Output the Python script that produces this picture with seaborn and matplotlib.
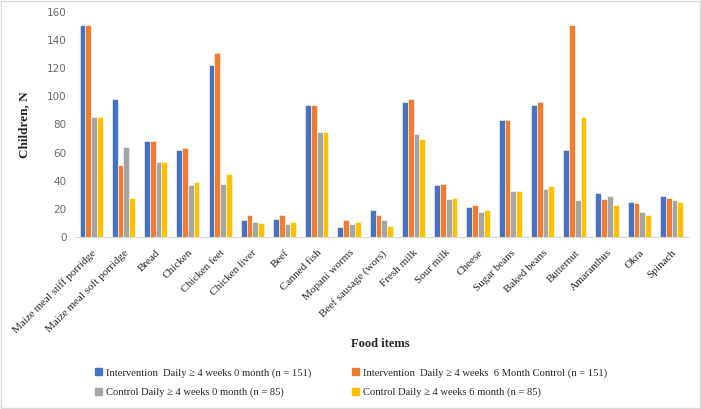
import numpy as np
import pandas as pd
import matplotlib.pyplot as plt
import seaborn as sns
from matplotlib.patches import Rectangle

# food items and counts
foods = ["Maize meal stiff porridge", "Maize meal soft porridge", "Bread", "Chicken",
         "Chicken feet", "Chicken liver", "Beef", "Canned fish", "Mopani worms",
         "Beef sausage (wors)", "Fresh milk", "Sour milk", "Cheese", "Sugar beans",
         "Baked beans", "Butternut", "Amaranthus", "Okra", "Spinach"]
int_0m = [151, 98, 68, 62, 122, 12, 13, 94, 7, 19, 96, 37, 21, 83, 94, 62, 31, 25, 29]
int_6m = [151, 51, 68, 63, 131, 16, 16, 94, 12, 16, 98, 38, 23, 83, 96, 151, 27, 24, 28]
ctl_0m = [85, 64, 53, 37, 38, 11, 9, 75, 9, 12, 73, 27, 18, 33, 34, 26, 29, 18, 26]
ctl_6m = [85, 28, 53, 39, 45, 10, 11, 75, 11, 8, 70, 28, 19, 33, 36, 85, 23, 16, 25]

series = ["Intervention  Daily \u2265 4 weeks 0 month (n = 151)",
          "Intervention  Daily \u2265 4 weeks  6 Month Control (n = 151)",
          "Control Daily \u2265 4 weeks 0 month (n = 85)",
          "Control Daily \u2265 4 weeks 6 month (n = 85)"]
colors = ["#4472C4", "#ED7D31", "#A5A5A5", "#FFC000"]

df = pd.DataFrame({"Food": foods, series[0]: int_0m, series[1]: int_6m,
                   series[2]: ctl_0m, series[3]: ctl_6m})
df_long = df.melt(id_vars="Food", var_name="Group", value_name="N")

serif = ["Liberation Serif", "DejaVu Serif"]

sns.set_style("white")
fig = plt.figure(figsize=(7.01, 4.09), dpi=100)
ax = fig.add_axes([0.107, 0.4205, 0.874, 0.5502])

sns.barplot(data=df_long, x="Food", y="N", hue="Group", hue_order=series,
            palette=colors, saturation=1, width=0.72, edgecolor="white",
            linewidth=0.4, ax=ax, legend=False)

ax.set_ylim(0, 160)
ax.set_yticks(np.arange(0, 161, 20))
ax.set_xlim(-0.5, len(foods) - 0.5)
ax.tick_params(axis="y", labelsize=7.5, colors="#6b6b6b", length=0, pad=6)
ax.tick_params(axis="x", length=0, pad=8)
ax.set_xticks(range(len(foods)))
ax.set_xticklabels(foods, rotation=45, ha="right", rotation_mode="anchor",
                   fontsize=8, family=serif, color="#262626")
for s in ["top", "right", "left"]:
    ax.spines[s].set_visible(False)
ax.spines["bottom"].set_color("#D9D9D9")
ax.set_xlabel("")
ax.set_ylabel("Children, N", fontsize=9.5, fontweight="bold", family=serif, labelpad=12)

fig.text(0.542, 0.158, "Food items", ha="center", va="center", fontsize=9,
         fontweight="bold", family=serif)

handles = [Rectangle((0, 0), 1, 1, color=c) for c in colors]
order = [0, 2, 1, 3]
fig.legend([handles[i] for i in order], [series[i] for i in order], ncol=2,
           loc="upper left", bbox_to_anchor=(0.1355, 0.100), frameon=False,
           prop={"family": serif, "size": 7.6}, handlelength=0.65, handleheight=0.65,
           handletextpad=0.35, columnspacing=3.9, labelspacing=0.95,
           borderpad=0, borderaxespad=0)

fig.patches.append(Rectangle((0.002, 0.003), 0.996, 0.994, transform=fig.transFigure,
                             fill=False, edgecolor="#D9D9D9", linewidth=1))

fig.savefig("out.png", dpi=100)
